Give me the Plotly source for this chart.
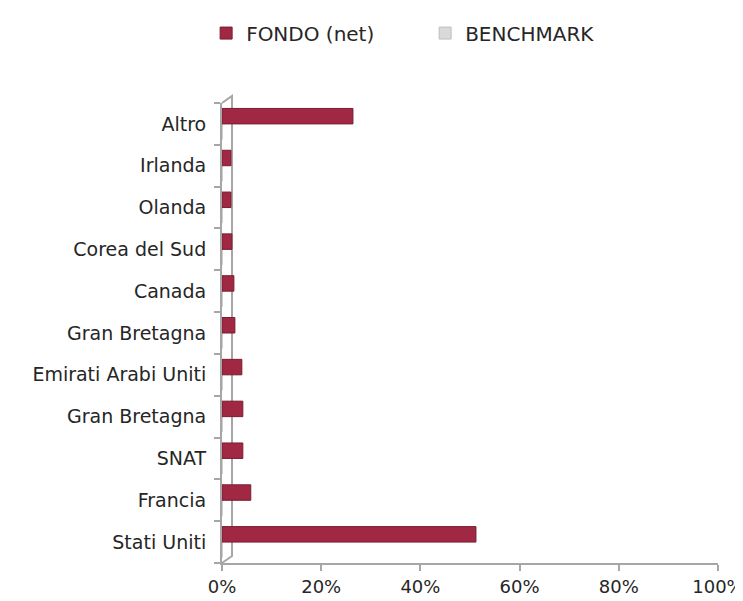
import plotly.graph_objects as go

categories = ["Stati Uniti", "Francia", "SNAT", "Gran Bretagna", "Emirati Arabi Uniti",
              "Gran Bretagna\u200b", "Canada", "Corea del Sud", "Olanda", "Irlanda", "Altro"]
fondo = [51.2, 5.8, 4.2, 4.2, 4.0, 2.6, 2.4, 2.0, 1.8, 1.8, 26.4]
benchmark = [0, 0, 0, 0, 0, 0, 0, 0, 0, 0, 0]
x_ticks = [0, 20, 40, 60, 80, 100]
x_ticktext = ["0%", "20%", "40%", "60%", "80%", "100%"]

fig = go.Figure()
fig.add_trace(go.Bar(
    y=categories, x=benchmark, orientation="h", name="BENCHMARK",
    marker=dict(color="#D9D9D9", line=dict(color="#BFBFBF", width=1)),
    legendrank=2,
))
fig.add_trace(go.Bar(
    y=categories, x=fondo, orientation="h", name="FONDO (net)",
    marker=dict(color="#A02842", line=dict(color="#7A1C30", width=1)),
    legendrank=1,
))

axis_col = "#A6A6A6"
txt_col = "#262626"
font_fam = "'DejaVu Sans', sans-serif"

# pseudo-3D back wall of the category axis (decoration, paper coordinates)
dx = 10 / 496
dy = 7 / 460
fig.add_shape(type="path",
              path=f"M 0,0 L {dx},{dy} L {dx},{1 + dy} L 0,1",
              xref="paper", yref="paper",
              line=dict(color=axis_col, width=2), layer="below")

fig.update_layout(
    width=743, height=601,
    paper_bgcolor="white", plot_bgcolor="white",
    margin=dict(l=214, r=33, t=95, b=46, autoexpand=False),
    barmode="group", bargap=0.26, bargroupgap=0.0,
    font=dict(family=font_fam, size=19, color=txt_col),
    legend=dict(orientation="h", x=-0.032, xanchor="left", y=1.152, yanchor="middle",
                font=dict(size=20, color=txt_col), entrywidth=174, entrywidthmode="pixels",
                itemwidth=30),
    xaxis=dict(range=[0, 100], tickvals=x_ticks, ticktext=x_ticktext,
               showgrid=False, zeroline=False, showline=True, linecolor=axis_col, linewidth=2,
               ticks="outside", ticklen=6, tickcolor=axis_col, tickwidth=2,
               tickfont=dict(size=18, color=txt_col)),
    yaxis=dict(categoryorder="array", categoryarray=categories, range=[-0.5, 10.5],
               showgrid=False, showline=True, linecolor=axis_col, linewidth=2,
               ticks="outside", ticklen=6, tickcolor=axis_col, tickwidth=2,
               tickson="boundaries", ticklabelstandoff=10,
               tickfont=dict(size=19, color=txt_col)),
)

fig.write_html("out.html")
